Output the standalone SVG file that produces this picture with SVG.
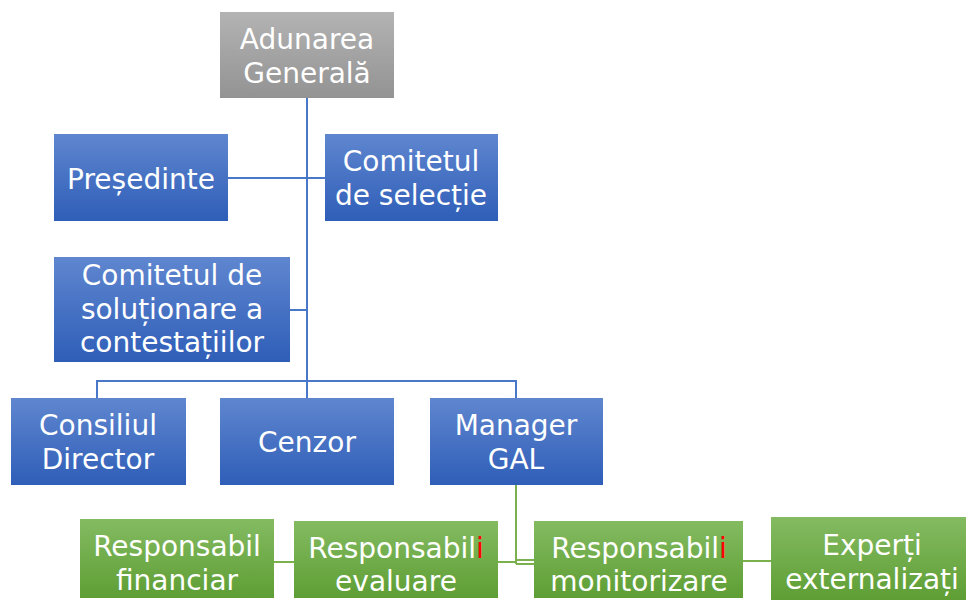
<svg xmlns="http://www.w3.org/2000/svg" width="966" height="600" viewBox="0 0 966 600">
<defs>
<linearGradient id="gBlue" x1="0" y1="0" x2="0" y2="1"><stop offset="0" stop-color="#5f86cf"/><stop offset="1" stop-color="#2f5eb8"/></linearGradient>
<linearGradient id="gGreen" x1="0" y1="0" x2="0" y2="1"><stop offset="0" stop-color="#84bb62"/><stop offset="1" stop-color="#5e9e34"/></linearGradient>
<linearGradient id="gGray" x1="0" y1="0" x2="0" y2="1"><stop offset="0" stop-color="#b3b3b3"/><stop offset="1" stop-color="#939393"/></linearGradient>
</defs>
<style>
text{font-family:"DejaVu Sans","Noto Sans",sans-serif;font-size:28px;fill:#ffffff;text-anchor:middle}
.b{fill:url(#gBlue)}
.g{fill:url(#gGreen)}
.gr{fill:url(#gGray)}
.cb{stroke:#4a78c8;stroke-width:2;fill:none}
.cg{stroke:#7ab04e;stroke-width:2;fill:none}
.r{fill:#ff0000}
</style>
<g id="connectors">
<path class="cb" d="M307 98V398M228 178H325M290 310H307M97 398V381H516V398"/>
<path class="cg" d="M516 485V564M274 562H294M498 562H516M516 560H534M516 564H534M743 561H771"/>
</g>
<g id="adunarea"><rect class="gr" x="220" y="12" width="174" height="86"/><text x="307" y="49">Adunarea</text><text x="307" y="83">Generală</text></g>
<g id="presedinte"><rect class="b" x="54" y="134" width="174" height="87"/><text x="141" y="189">Președinte</text></g>
<g id="comitet-selectie"><rect class="b" x="325" y="134" width="173" height="87"/><text x="411" y="171">Comitetul</text><text x="411" y="205">de selecție</text></g>
<g id="comitet-solutionare"><rect class="b" x="54" y="257" width="236" height="105"/><text x="172" y="285">Comitetul de</text><text x="172" y="319">soluționare a</text><text x="172" y="352">contestațiilor</text></g>
<g id="consiliul"><rect class="b" x="11" y="398" width="175" height="87"/><text x="98" y="435">Consiliul</text><text x="98" y="469">Director</text></g>
<g id="cenzor"><rect class="b" x="220" y="398" width="174" height="87"/><text x="307" y="452">Cenzor</text></g>
<g id="manager"><rect class="b" x="430" y="398" width="173" height="87"/><text x="516" y="435">Manager</text><text x="516" y="469">GAL</text></g>
<g id="resp-financiar"><rect class="g" x="80" y="519" width="194" height="79"/><text x="177" y="556">Responsabil</text><text x="177" y="590">financiar</text></g>
<g id="resp-evaluare"><rect class="g" x="294" y="521" width="204" height="77"/><text x="396" y="558">Responsabil<tspan class="r">i</tspan></text><text x="396" y="591">evaluare</text></g>
<g id="resp-monitorizare"><rect class="g" x="534" y="521" width="209" height="77"/><text x="639" y="558">Responsabil<tspan class="r">i</tspan></text><text x="639" y="591">monitorizare</text></g>
<g id="experti"><rect class="g" x="771" y="517" width="200" height="83"/><text x="872" y="555">Experți</text><text x="872" y="589">externalizați</text></g>
</svg>
